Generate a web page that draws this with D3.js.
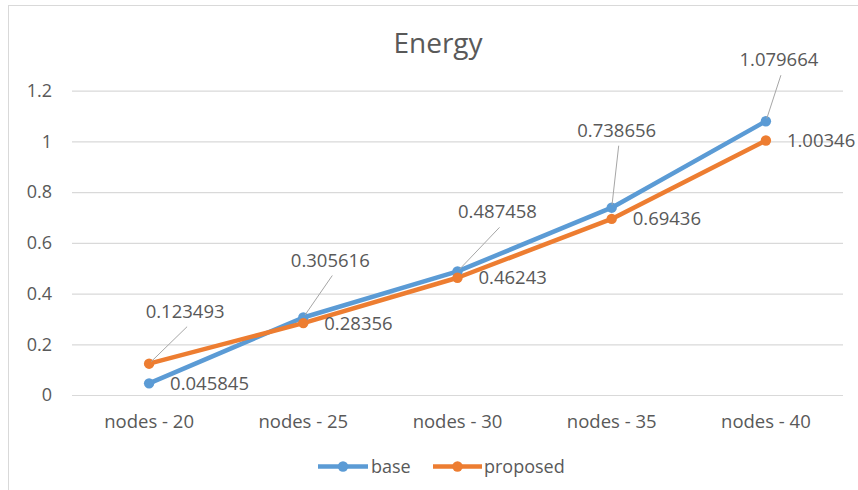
<!DOCTYPE html>
<html>
<head>
<meta charset="utf-8">
<script src="https://cdn.jsdelivr.net/npm/d3@7"></script>
<style>
  html, body { margin: 0; padding: 0; background: #fff; }
  svg { display: block; font-family: "Open Sans", "Noto Sans", sans-serif; }
</style>
</head>
<body>
<svg id="chart" width="858" height="490"></svg>
<script>
// Energy per network size
const categories = ["nodes - 20", "nodes - 25", "nodes - 30", "nodes - 35", "nodes - 40"];
const baseValues = [0.045845, 0.305616, 0.487458, 0.738656, 1.079664];
const proposedValues = [0.123493, 0.28356, 0.46243, 0.69436, 1.00346];
const yTicks = [0, 0.2, 0.4, 0.6, 0.8, 1, 1.2];
const seriesNames = ["base", "proposed"];

// label placement: "leader" labels are pulled up with a leader line, "right" sit beside the marker
const baseLabelPlacement = ["right", "leader", "leader", "leader", "leader"];
const proposedLabelPlacement = ["leader", "right", "right", "right", "right"];
const leaderOffsets = [[36, -46], [27, -51], [40, -53], [5, -71], [13, -55]];

const colors = { base: "#5B9BD5", proposed: "#ED7D31" };
const textColor = "#595959";
const gridColor = "#d9d9d9";

const svg = d3.select("#chart");
const plot = { left: 72, right: 843, top: 90.7, bottom: 395 };

// outer chart frame (runs past the bottom/right edge)
svg.append("rect")
  .attr("x", 8.5).attr("y", 5.5)
  .attr("width", 870).attr("height", 500)
  .attr("fill", "#fff").attr("stroke", gridColor).attr("stroke-width", 1);

const x = d3.scaleBand().domain(categories).range([plot.left, plot.right]);
const y = d3.scaleLinear().domain([0, 1.2]).range([plot.bottom, plot.top]);
const cx = c => x(c) + x.bandwidth() / 2;

// title
svg.append("text")
  .attr("x", 438).attr("y", 53)
  .attr("text-anchor", "middle")
  .attr("font-size", 28)
  .attr("fill", textColor)
  .text("Energy");

// horizontal gridlines + y labels
const yAxis = d3.axisLeft(y).tickValues(yTicks).tickFormat(d3.format("~g"))
  .tickSize(-(plot.right - plot.left)).tickPadding(20);
const gy = svg.append("g").attr("transform", `translate(${plot.left},0)`).call(yAxis);
gy.select(".domain").remove();
gy.selectAll(".tick line").attr("stroke", gridColor).attr("stroke-width", 1.2);
gy.selectAll(".tick text").attr("fill", textColor).attr("font-size", 18)
  .attr("font-family", "Open Sans, sans-serif");

// category labels
const xAxis = d3.axisBottom(x).tickSize(0).tickPadding(20);
const gx = svg.append("g").attr("transform", `translate(0,${plot.bottom})`).call(xAxis);
gx.select(".domain").remove();
gx.selectAll(".tick text").attr("fill", textColor).attr("font-size", 18.5)
  .attr("font-family", "Open Sans, sans-serif");

// series
const series = [
  { name: "base", values: baseValues, placement: baseLabelPlacement },
  { name: "proposed", values: proposedValues, placement: proposedLabelPlacement }
];

const line = d3.line().x((d, i) => cx(categories[i])).y(d => y(d));

series.forEach(s => {
  svg.append("path")
    .datum(s.values)
    .attr("d", line)
    .attr("fill", "none")
    .attr("stroke", colors[s.name])
    .attr("stroke-width", 4.5)
    .attr("stroke-linejoin", "round");
});

series.forEach(s => {
  svg.selectAll(null)
    .data(s.values)
    .enter().append("circle")
    .attr("cx", (d, i) => cx(categories[i]))
    .attr("cy", d => y(d))
    .attr("r", 5.2)
    .attr("fill", colors[s.name]);
});

// data labels
const fmt = d => String(d);
series.forEach(s => {
  s.values.forEach((v, i) => {
    const px = cx(categories[i]), py = y(v);
    if (s.placement[i] === "right") {
      svg.append("text")
        .attr("x", px + 21).attr("y", py + 6.5)
        .attr("font-size", 18.5).attr("fill", textColor)
        .text(fmt(v));
    } else {
      const [dx, dy] = leaderOffsets[i];
      const lx = px + dx, ly = py + dy;
      const sx = lx + 2, sy = ly + 9;
      const len = Math.hypot(px - sx, py - sy);
      const k = (len - 3) / len;
      svg.append("line")
        .attr("x1", sx).attr("y1", sy)
        .attr("x2", sx + (px - sx) * k).attr("y2", sy + (py - sy) * k)
        .attr("stroke", "#a6a6a6").attr("stroke-width", 1);
      svg.append("text")
        .attr("x", lx).attr("y", ly)
        .attr("text-anchor", "middle")
        .attr("font-size", 18.5).attr("fill", textColor)
        .text(fmt(v));
    }
  });
});

// legend
const legendItems = [
  { name: seriesNames[0], x0: 318, x1: 368, tx: 371 },
  { name: seriesNames[1], x0: 433, x1: 482, tx: 484 }
];
const legendY = 466.5;
legendItems.forEach(it => {
  const g = svg.append("g");
  g.append("line")
    .attr("x1", it.x0).attr("x2", it.x1)
    .attr("y1", legendY).attr("y2", legendY)
    .attr("stroke", colors[it.name]).attr("stroke-width", 4.5);
  g.append("circle")
    .attr("cx", (it.x0 + it.x1) / 2).attr("cy", legendY)
    .attr("r", 5.2).attr("fill", colors[it.name]);
  g.append("text")
    .attr("x", it.tx).attr("y", legendY + 6.5)
    .attr("font-size", 18).attr("fill", textColor)
    .text(it.name);
});
</script>
</body>
</html>
